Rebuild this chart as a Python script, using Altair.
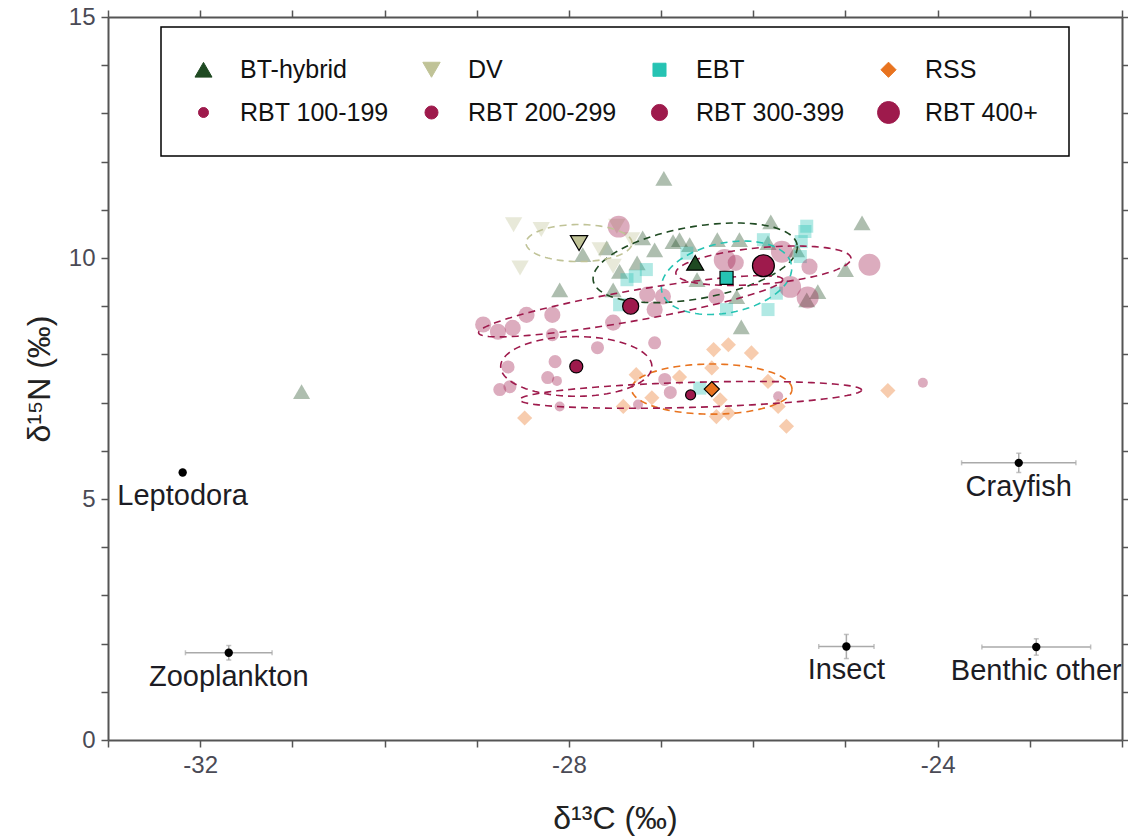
import altair as alt
import numpy as np
import pandas as pd

# ---------------- data ----------------
groups = ["BT-hybrid", "DV", "EBT", "RSS", "RBT 100-199", "RBT 200-299", "RBT 300-399", "RBT 400+"]
colors = ["#1f4a22", "#c0c397", "#26c3b3", "#e8731f", "#9e1a4c", "#9e1a4c", "#9e1a4c", "#9e1a4c"]
shapes = ["triangle-up", "triangle-down", "square", "diamond", "circle", "circle", "circle", "circle"]
sizes = [290, 300, 170, 230, 100, 170, 260, 480]

bt_x = [-30.90, -26.97, -28.10, -24.82, -25.00, -25.81, -26.13, -27.20, -27.59, -27.26, -27.45, -26.87,
        -26.80, -26.39, -26.15, -25.84, -25.53, -26.61, -26.18, -25.30, -25.42, -27.52, -27.85, -26.69, -27.07]
bt_y = [7.23, 11.65, 9.34, 10.73, 9.76, 10.75, 8.57, 10.42, 10.21, 9.90, 9.72, 10.34,
        10.38, 10.38, 10.38, 10.32, 10.17, 9.55, 9.20, 9.30, 9.13, 9.34, 10.07, 10.28, 10.17]
dv_x = [-28.60, -28.30, -28.53, -27.52, -27.48, -27.66, -27.32]
dv_y = [10.69, 10.59, 9.79, 9.83, 10.66, 10.17, 10.38]
ebt_x = [-25.42, -25.44, -25.48, -25.89, -27.16, -27.28, -27.37, -26.72, -25.75, -25.84, -26.29, -25.49, -27.45, -26.58]
ebt_y = [10.66, 10.55, 10.34, 10.38, 9.76, 9.62, 9.55, 10.10, 9.27, 8.93, 8.93, 10.03, 9.03, 7.30]
rss_x = [-27.27, -27.10, -27.41, -28.48, -26.80, -26.45, -26.43, -26.27, -26.02, -26.36, -26.40, -26.27,
         -25.84, -25.73, -25.64, -24.54]
rss_y = [7.58, 7.10, 6.92, 6.68, 7.53, 7.72, 8.10, 8.20, 8.03, 7.06, 6.71, 6.78, 7.44, 6.92, 6.51, 7.25]
rbt1_x = [-28.13, -28.10, -27.25, -25.73, -24.16]
rbt1_y = [7.45, 6.92, 6.96, 7.13, 7.41]
rbt2_x = [-28.66, -28.23, -28.75, -28.64, -27.69, -28.15, -27.07, -28.18, -26.96, -26.90]
rbt2_y = [7.74, 7.52, 7.27, 7.33, 8.14, 7.85, 8.24, 8.41, 7.48, 7.21]
rbt3_x = [-28.93, -28.77, -28.61, -28.46, -28.18, -27.52, -27.15, -26.98, -27.07, -26.40, -26.19, -25.39]
rbt3_y = [8.62, 8.47, 8.55, 8.82, 8.82, 8.66, 9.24, 9.20, 8.93, 9.20, 9.90, 9.82]
rbt4_x = [-27.46, -24.74, -25.69, -25.60, -25.41, -26.31]
rbt4_y = [10.65, 9.86, 10.13, 9.40, 9.18, 9.96]

mean_x = [-26.63, -27.89, -26.29, -26.45, -26.68, -27.92, -27.33, -25.89]
mean_y = [9.90, 10.31, 9.59, 7.28, 7.16, 7.75, 9.00, 9.84]

# standard ellipses: two conjugate semi-diameters (data units) around each group mean
ell_e1x = [1.106, 0.575, 0.70, 0.87, 1.855, 0.82, 1.65, 0.95]
ell_e1y = [0.373, 0.0, 0.30, 0.0, 0.10, 0.0, 0.55, 0.15]
ell_e2x = [-0.067, 0.0, -0.10, 0.0, 0.0, 0.0, 0.0, 0.0]
ell_e2y = [0.737, 0.384, 0.70, 0.52, 0.26, 0.62, 0.32, 0.38]

src_names = ["Leptodora", "Zooplankton", "Insect", "Crayfish", "Benthic other"]
src_x = [-32.19, -31.69, -24.99, -23.12, -22.93]
src_y = [5.55, 1.81, 1.94, 5.75, 1.93]
src_xerr = [0.0, 0.47, 0.30, 0.62, 0.59]
src_yerr = [0.0, 0.15, 0.25, 0.20, 0.17]

# ---------------- tables ----------------
ind_lists = [(bt_x, bt_y), (dv_x, dv_y), (ebt_x, ebt_y), (rss_x, rss_y),
             (rbt1_x, rbt1_y), (rbt2_x, rbt2_y), (rbt3_x, rbt3_y), (rbt4_x, rbt4_y)]
ind_rows = []
for g, (xs, ys) in zip(groups, ind_lists):
    for xv, yv in zip(xs, ys):
        ind_rows.append({"group": g, "x": xv, "y": yv})
ind_df = pd.DataFrame(ind_rows)

mean_df = pd.DataFrame({"group": groups, "x": mean_x, "y": mean_y})

tt = np.linspace(0, 2 * np.pi, 121)
ell_rows = []
for g, cx, cy, ax, ay, bx, by in zip(groups, mean_x, mean_y, ell_e1x, ell_e1y, ell_e2x, ell_e2y):
    for k, t in enumerate(tt):
        ell_rows.append({"group": g, "k": k,
                         "x": cx + ax * np.cos(t) + bx * np.sin(t),
                         "y": cy + ay * np.cos(t) + by * np.sin(t)})
ell_df = pd.DataFrame(ell_rows)

src_df = pd.DataFrame({"name": src_names, "x": src_x, "y": src_y, "xerr": src_xerr, "yerr": src_yerr})
src_df["xlo"] = src_df["x"] - src_df["xerr"]
src_df["xhi"] = src_df["x"] + src_df["xerr"]
src_df["ylo"] = src_df["y"] - src_df["yerr"]
src_df["yhi"] = src_df["y"] + src_df["yerr"]
err_df = src_df[src_df["xerr"] > 0]

# ---------------- scales / axes ----------------
FONT = "Liberation Sans"
AX = "#555555"
XTITLE = "δ¹³C (‰)"
YTITLE = "δ¹⁵N (‰)"
xscale = alt.Scale(domain=[-33, -22], nice=False, zero=False)
yscale = alt.Scale(domain=[0, 15], nice=False, zero=False)

color_scale = alt.Scale(domain=groups, range=colors)
shape_scale = alt.Scale(domain=groups, range=shapes)
size_scale = alt.Scale(type="ordinal", domain=groups, range=sizes)

x_axis = alt.Axis(values=list(range(-33, -21)), labelExpr="datum.value % 4 == 0 ? '' + datum.value : ''",
                  grid=False, tickSize=7, tickWidth=1.5, tickColor=AX, domainColor=AX, domainWidth=2,
                  labelFont=FONT, labelFontSize=24, labelColor="#4a4a55", labelPadding=6,
                  title=XTITLE, titleFont=FONT, titleFontSize=32, titleFontWeight="normal",
                  titleColor="#222222", titlePadding=26)
y_axis = alt.Axis(values=list(range(0, 16)), labelExpr="datum.value % 5 == 0 ? '' + datum.value : ''",
                  grid=False, tickSize=7, tickWidth=1.5, tickColor=AX, domainColor=AX, domainWidth=2,
                  labelFont=FONT, labelFontSize=24, labelColor="#4a4a55", labelPadding=6,
                  title=YTITLE, titleFont=FONT, titleFontSize=32, titleFontWeight="normal",
                  titleColor="#222222", titlePadding=12)

legend = alt.Legend(title=None, orient="none", legendX=53, legendY=10, columns=4, direction="horizontal",
                    strokeColor="black", fillColor="white", padding=30,
                    columnPadding=30, rowPadding=16, labelFont=FONT, labelFontSize=25,
                    labelColor="#111111", labelOffset=24, symbolStrokeColor="black",
                    symbolStrokeWidth=1, symbolOpacity=1)

X = alt.X("x:Q", scale=xscale, axis=x_axis)
Y = alt.Y("y:Q", scale=yscale, axis=y_axis)

# first layer: carries the legend (invisible marks, drawn again on top later)
legend_layer = alt.Chart(mean_df).mark_point(filled=True, opacity=0, stroke="black", strokeWidth=1).encode(
    x=X, y=Y,
    color=alt.Color("group:N", scale=color_scale, legend=legend, sort=groups),
    shape=alt.Shape("group:N", scale=shape_scale, legend=legend, sort=groups),
    size=alt.Size("group:N", scale=size_scale, legend=legend, sort=groups),
)

ind = alt.Chart(ind_df).mark_point(filled=True, opacity=0.36, strokeWidth=0).encode(
    x="x:Q", y="y:Q",
    color=alt.Color("group:N", scale=color_scale, legend=None),
    shape=alt.Shape("group:N", scale=shape_scale, legend=None),
    size=alt.Size("group:N", scale=size_scale, legend=None),
)

ell = alt.Chart(ell_df).mark_line(strokeDash=[7, 5], strokeWidth=1.6).encode(
    x="x:Q", y="y:Q",
    color=alt.Color("group:N", scale=color_scale, legend=None),
    detail="group:N",
    order="k:Q",
)

means = alt.Chart(mean_df).mark_point(filled=True, opacity=1, stroke="black", strokeWidth=1.2).encode(
    x="x:Q", y="y:Q",
    color=alt.Color("group:N", scale=color_scale, legend=None),
    shape=alt.Shape("group:N", scale=shape_scale, legend=None),
    size=alt.Size("group:N", scale=size_scale, legend=None),
)

errx = alt.Chart(err_df).mark_errorbar(ticks=True, color="#aaaaaa", thickness=1.5).encode(
    x=alt.X("xlo:Q", title=XTITLE), x2="xhi:Q", y=alt.Y("y:Q", title=YTITLE))
erry = alt.Chart(err_df).mark_errorbar(ticks=True, color="#aaaaaa", thickness=1.5).encode(
    y=alt.Y("ylo:Q", title=YTITLE), y2="yhi:Q", x=alt.X("x:Q", title=XTITLE))

src_pts = alt.Chart(src_df).mark_point(filled=True, color="black", size=70, opacity=1).encode(
    x="x:Q", y="y:Q")
src_lbl = alt.Chart(src_df).mark_text(dy=24, font=FONT, fontSize=29, color="#1c1c24").encode(
    x="x:Q", y="y:Q", text="name:N")

main = alt.layer(legend_layer, ind, ell, means, errx, erry, src_pts, src_lbl)

# frame: top and right axes with outward ticks, no labels
frame_x = alt.Axis(values=list(range(-33, -21)), labels=False, grid=False, tickSize=7, tickWidth=1.5,
                   tickColor=AX, domainColor=AX, domainWidth=2, title=None, orient="top")
frame_y = alt.Axis(values=list(range(0, 16)), labels=False, grid=False, tickSize=7, tickWidth=1.5,
                   tickColor=AX, domainColor=AX, domainWidth=2, title=None, orient="right")
frame = alt.Chart(mean_df).mark_point(opacity=0).encode(
    x=alt.X("x:Q", scale=xscale, axis=frame_x),
    y=alt.Y("y:Q", scale=yscale, axis=frame_y),
)

chart = alt.layer(main, frame).resolve_scale(x="independent", y="independent").properties(
    width=1014, height=723,
    autosize=alt.AutoSizeParams(type="none"),
    padding={"left": 108, "top": 17, "right": 6, "bottom": 99},
    background="white",
).configure_view(stroke=None).configure_legend(strokeWidth=1.5)

chart.save("out.html", embed_options={"renderer": "svg", "actions": False})
